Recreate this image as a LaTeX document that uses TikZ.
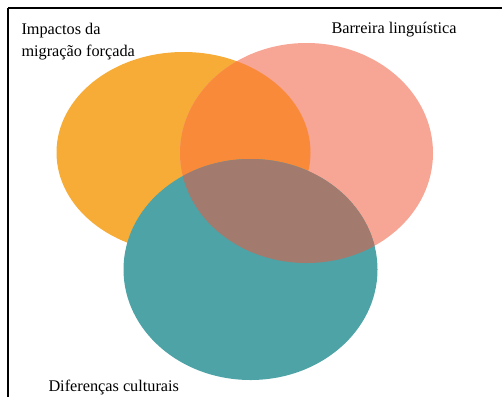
\documentclass[tikz,border=0pt]{standalone}
\usepackage{fontspec}
\setmainfont{Liberation Serif}

\definecolor{orangeset}{RGB}{246,172,54}
\definecolor{pinkset}{RGB}{247,165,148}
\definecolor{tealset}{RGB}{78,163,166}
\definecolor{orangepink}{RGB}{249,138,58}
\definecolor{pinkteal}{RGB}{163,122,110}

\tikzset{every picture/.style={line width=0.75pt}}

\begin{document}
\begin{tikzpicture}[x=0.75pt,y=0.75pt,yscale=-1,xscale=1]
    %set diagram left start at 0, and has height of 397
    \useasboundingbox (0,0) rectangle (502,397);

    %Shape: Ellipse [id:orange]
    \fill [color=orangeset] (183.5,152.5) ellipse (127 and 100.5);
    %Shape: Ellipse [id:pink]
    \fill [color=pinkset] (306.5,153) ellipse (126.5 and 110);
    %Overlap [id:orange-pink]
    \begin{scope}
        \clip (183.5,152.5) ellipse (127 and 100.5);
        \fill [color=orangepink] (306.5,153) ellipse (126.5 and 110);
    \end{scope}
    %Shape: Ellipse [id:teal]
    \fill [color=tealset] (250.5,269.5) ellipse (127 and 110.5);
    %Overlap [id:pink-teal]
    \begin{scope}
        \clip (306.5,153) ellipse (126.5 and 110);
        \fill [color=pinkteal] (250.5,269.5) ellipse (127 and 110.5);
    \end{scope}

    %Straight Lines [id:frame-top]
    \draw [line width=1.5]   (8,8) -- (502,8) ;
    %Straight Lines [id:frame-left]
    \draw [line width=1.5]   (8,8) -- (8,397) ;

    % Text Node
    \draw (20,21.5) node [anchor=north west][inner sep=0.75pt]   [align=left, font=\fontsize{12.2}{16.5}\selectfont] (impactos) {Impactos da\\migração forçada};
    % Text Node
    \draw (330,21) node [anchor=north west][inner sep=0.75pt]   [align=left, font=\fontsize{12.2}{16.5}\selectfont] (barreira) {Barreira linguística};
    % Text Node
    \draw (47,379) node [anchor=north west][inner sep=0.75pt]   [align=left, font=\fontsize{12.2}{16.5}\selectfont] (diferencas) {Diferenças culturais};

\end{tikzpicture}
\end{document}
